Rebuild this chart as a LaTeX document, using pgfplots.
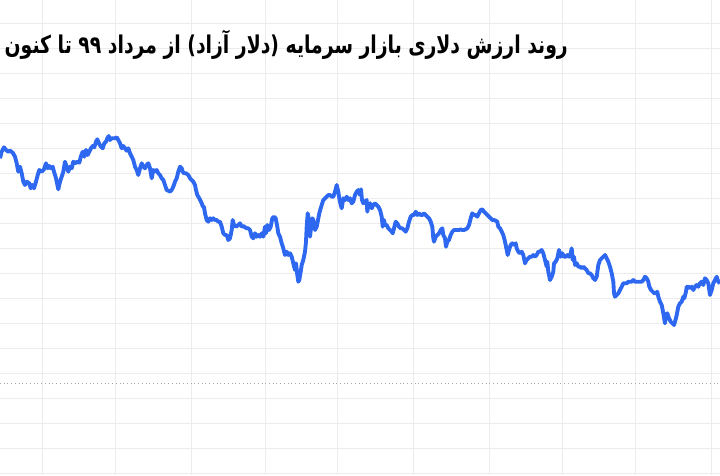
\documentclass[border=0pt]{standalone}
\usepackage{fontspec}
\usepackage{graphicx}
\usepackage{pgfplots}
\pgfplotsset{compat=1.18}
\TeXXeTstate=1
\newfontfamily\arabicfont[Script=Arabic]{DejaVu Sans}
\definecolor{lineblue}{RGB}{46,104,240}
\definecolor{gridgray}{RGB}{236,236,238}

% dollar value of the market (arbitrary units)
\pgfplotstableread{
x y
0 316.7
1.7 323.3
4 327.7
6 325
8.3 323.3
10 324.3
12.7 322.3
15 318.3
16.7 311.7
18.3 303.3
20 308.3
21.7 301.7
23.3 293.3
25 290
26.7 293.3
29.3 291.7
30.7 286.7
32.3 290
34 286.7
36 293.3
37.7 300
39.3 305
41.7 303.3
44 305.7
46 311.7
47.7 306.7
49.3 309
51 306.7
52.7 308.3
54 303.3
56 296.7
58.3 285.7
60 293.3
61.7 298.3
63.3 303.3
65 313.3
66.7 308.3
68.3 303.3
70 308.3
71.7 306.7
73.3 313.3
75 311.7
77.3 313.3
79.3 312.3
81 319
82.7 323.3
84.3 318.3
86 325
87.7 320
89.3 323.3
91 326.7
92.7 329
94.3 327.7
96 333.3
97.3 335.7
99.3 331
101 328.3
102.7 326.7
104.3 331.7
106 333.3
107.3 336.7
108.7 339
110 335
111.7 336.7
113.3 336.7
115 336.7
116.7 337.7
118.3 335
120 331.7
121.7 326.7
123.3 329
125 326.7
126.7 324.3
128.3 326.7
130 321.7
131.7 318.3
133.3 315
135 308.3
136.7 305
138.3 300
140 306.7
141.7 311.7
143.3 308.3
145 306.7
146.7 310
148.3 311.7
150 306.7
151.7 296.7
153.3 305
155 303.3
156.7 305
158.3 301.7
160 300
161.7 296.7
163.3 295
165 290
166.7 285
168.3 284.3
170 283.3
171.7 285
173.3 288.3
175 293.3
176.7 296.7
178.3 303.3
180 308.3
181.7 306.7
182.7 303.3
184 301.7
186 301.7
188.3 300
190 296.7
191.7 295
193.3 293.3
195 290
196 285
197.3 280
199.3 276.7
201 273.3
202.7 269
204 267.7
205 261.7
206.7 255
208.3 253.3
210 256.7
211.7 255
213.3 256.7
215 255
216.7 255
218.3 253.3
220 253.3
221.7 248.3
223.3 241.7
225 240
226.7 240
228.3 235
230 236.7
231.7 245
232.7 255
234 250
236 248.3
238.3 250
240 251.7
241.7 248.3
243.3 249
245 247.7
246.7 246.7
248.3 246.7
250 245
251.7 238.3
253.3 236.7
255 241.7
256.7 238.3
258.3 240
260 238.3
261.7 241.7
263.3 238.3
265 248.3
266 241.7
267.3 250
269 245
270.7 248.3
272.3 256.7
274 258.3
275.7 256.7
277.3 248.3
278.3 241.7
280 238.3
281.7 231.7
283.3 226.7
285 220
286.7 223.3
288.3 220
290 221.7
291.7 218.3
293.3 211.7
295 205
296 211.7
297.3 200
298.3 193.3
299.3 195
300.7 203.3
301.7 210
303.3 215
305 223.3
306 233.3
306.7 248.3
307.7 261.7
309 255
310 238.3
311 246.7
312.3 256.7
313.3 255
315 245
316.7 248.3
317.7 253.3
319.3 261.7
320.7 266.7
321.7 270
323.3 275
325 276.7
326.7 278.3
328.3 280
330 280
331.7 278.3
333.3 278.3
335 283.3
336.7 290
338.3 283.3
339.3 276.7
340.7 270
341.7 266.7
343.3 276.7
345 275
346.7 278.3
348.3 275
350 276.7
351.7 271.7
353.3 273.3
355 280
356.7 283.3
358.3 285
360 280
361 285.7
362 275
363.3 271.7
365 273.3
366.7 275
367.3 263.3
368.3 270
370 271.7
371.7 266.7
373.3 270
375 271.7
376.7 270
378.3 268.3
380 265
381.7 258.3
382.7 248.3
384 255
385 250
386.7 250
388.3 246.7
390 245
391.7 243.3
392.7 241.7
394 246.7
395.7 253.3
397.3 251.7
399 248.3
400.7 246.7
402.3 246.7
404 245
405.7 243.3
407.3 246.7
409 253.3
410.7 258.3
412.3 260
414 260
415.7 263.3
417.3 260
419 261.7
420.7 260
422.3 260
424 261.7
425.7 260
427.3 258.3
429 256.7
430.7 253.3
432.3 248.3
433.3 236.7
434 233.3
435.7 238.3
437.3 240
439 241.7
440.7 245
442.3 246.7
443.3 240
445 236.7
446 228.3
447.3 233.3
449 235
450.7 240
452.3 243.3
454 245
455.7 245
457.3 245
459 245
460.7 245.7
462.3 245
464 245
465.7 245.7
467.3 246.7
469 250
470.7 256.7
472.3 261.7
474 260
475.7 260
477.3 258.3
479 261.7
480.7 265
482.3 265.7
484 263.3
485.7 261.7
487.3 260
489 258.3
490.7 256.7
492.3 255
494 255
495.7 254.3
497.3 253.3
498.3 248.3
500 246.7
501.7 243.3
503.3 240
505 233.3
506.7 225
507.7 220
509 225
510.7 230
512.3 231.7
514 230
515.7 231.7
516.7 226.7
518.3 223.3
520 221.7
521.7 223.3
523.3 220
525 211.7
526.7 215
528.3 216.7
530 218.3
531.7 218.3
533.3 220
535 218.3
536.7 220
538.3 223.3
540 223.3
541.7 225
543.3 221.7
545 215
546.7 208.3
547.3 213.3
548.3 203.3
550 195
551.7 198.3
553.3 203.3
554 211.7
555.7 213.3
557.3 216.7
559 225
560.7 218.3
562.3 221.7
564 218.3
565.7 218.3
567.3 220
569 218.3
570.7 221.7
571.7 226.7
572.7 215
574 218.3
575 210
576.7 211.7
578.3 208.3
580 208.3
581.7 206.7
583.3 208.3
585 206.7
586.7 205
588.3 201.7
590 201.7
591.7 200
593.3 196.7
595 195
596.7 198.3
598.3 210
600 215
601.7 216.7
603.3 218.3
605 220
606.7 216.7
608.3 213.3
610 208.3
611.7 201.7
613.3 193.3
614 181.7
615 178.3
616.7 180
618.3 181.7
620 185
621.7 188.3
623.3 191.7
625 191.7
626.7 191.7
628.3 193.3
630 193.3
631.7 193.3
633.3 195
635 193.3
636.7 193.3
638.3 193.3
640 193.3
641.7 193.3
643.3 195
645 198.3
646.7 196.7
648.3 193.3
649.3 188.3
651 185
652.7 183.3
654.3 181.7
656 181.7
657.3 183.3
658.3 178.3
660 173.3
661.7 170
663.3 161.7
665 151.7
666 160
667.3 161.7
669 156.7
670.7 153.3
672.3 151.7
674 150
675 153.3
676.7 160
678.3 168.3
680 171.7
681.7 173.3
683.3 178.3
684.3 176.7
686 183.3
686.7 188.3
688.3 188.3
690 186.7
691.7 188.3
693.3 185
695 188.3
696.7 190
698.3 188.3
700 191.7
701.7 193.3
703.3 190
705 196.7
706.7 195
708.3 191.7
710 180
711.7 185
713.3 191.7
715 195
716.7 198.3
718.3 193.3
720 191.7
}\marketdata

\begin{document}
\begin{tikzpicture}
\begin{axis}[
  scale only axis,
  width=7.2in, height=4.75in,
  xmin=0, xmax=720, ymin=0, ymax=475,
  axis line style={draw=none},
  axis background/.style={fill=white},
  major tick length=0pt,
  xticklabels={}, yticklabels={},
  xtick={42,115,191,265,337,413,489,562,635,711},
  ytick={2,27,...,452},
  grid=major,
  major grid style={gridgray, line width=0.7pt},
  extra y ticks={92},
  extra y tick labels={},
  extra y tick style={grid=major, major grid style={black!35, dotted, line width=0.7pt}},
]
\addplot[lineblue, line width=2.8pt, line join=round] table[x=x, y=y] {\marketdata};
\coordinate (bl) at (rel axis cs:0,0);
\coordinate (tr) at (rel axis cs:1,1);
\node[anchor=east, inner sep=0pt, font=\arabicfont\bfseries\fontsize{13.6}{16}\selectfont]
  at (rel axis cs:0.789,0.905) {\scalebox{1}[1.3]{\beginR روند ارزش دلاری بازار سرمایه (دلار آزاد) از مرداد ۹۹ تا کنون\endR}};
\end{axis}
\pgfresetboundingbox
\path[use as bounding box] (bl) rectangle (tr);
\end{tikzpicture}
\end{document}
